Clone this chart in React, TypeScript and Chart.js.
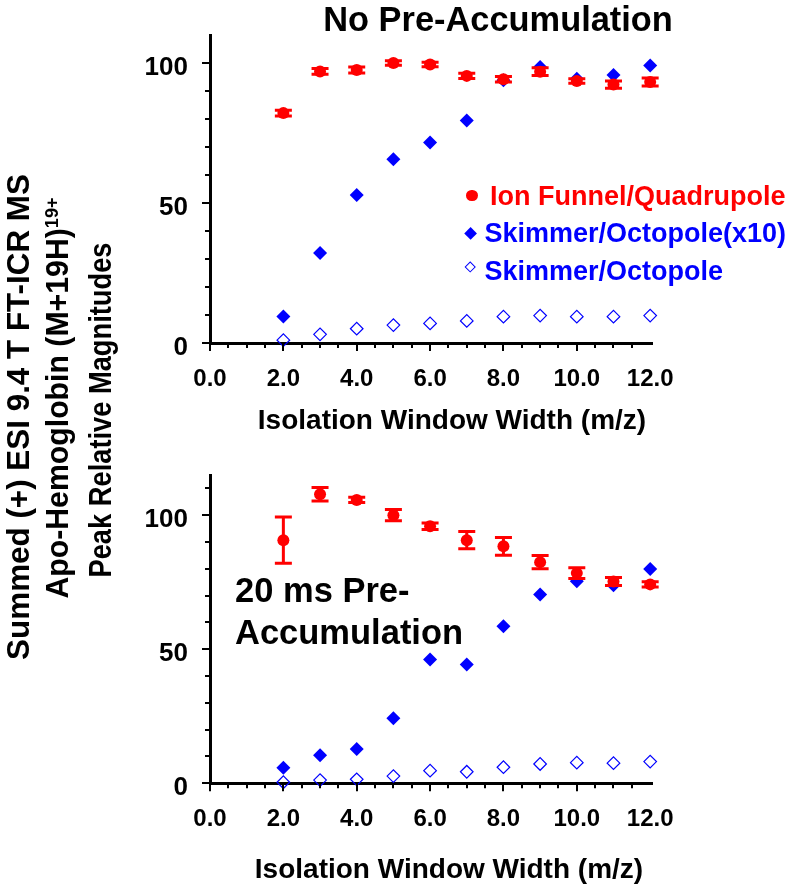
import React, { useEffect, useRef } from 'react';
import { Chart, registerables } from 'chart.js';

Chart.register(...registerables);

// ---------- data ----------
const widths = [2, 3, 4, 5, 6, 7, 8, 9, 10, 11, 12];

const topFunnel = [82.1, 97.0, 97.5, 100.0, 99.5, 95.4, 94.2, 96.9, 93.6, 92.3, 93.2];
const topFunnelErr = [1.0, 1.0, 1.1, 0.8, 0.8, 0.9, 1.0, 1.4, 0.8, 1.3, 1.4];
const topSkimmerX10 = [9.5, 32.1, 52.9, 65.6, 71.6, 79.5, 93.8, 98.6, 94.4, 95.7, 99.1];
const topSkimmer = [1.0, 3.1, 5.1, 6.4, 7.0, 7.9, 9.4, 9.8, 9.4, 9.4, 9.8];

const botFunnel = [90.7, 107.8, 105.7, 100.0, 95.9, 90.7, 88.4, 82.5, 78.4, 75.3, 74.2];
const botFunnelErr = [8.6, 2.5, 1.0, 2.1, 1.2, 3.2, 3.3, 2.5, 2.0, 1.5, 1.0];
const botSkimmerX10 = [5.8, 10.5, 12.8, 24.3, 46.2, 44.3, 58.6, 70.4, 75.4, 73.9, 79.9];
const botSkimmer = [0.4, 1.2, 1.5, 2.7, 4.7, 4.3, 6.0, 7.2, 7.7, 7.5, 8.1];

const xMajorValues = [0, 2, 4, 6, 8, 10, 12];
const xTickLabels = ['0.0', '2.0', '4.0', '6.0', '8.0', '10.0', '12.0'];
const yMajorValues = [0, 50, 100];
const yTickLabels = ['0', '50', '100'];

const seriesLabels = ['Ion Funnel/Quadrupole', 'Skimmer/Octopole(x10)', 'Skimmer/Octopole'];

// ---------- style ----------
const RED = '#ff0000';
const BLUE = '#0000ff';
const FONT = "'Liberation Sans', Arial, Helvetica, sans-serif";

const errorBarPlugin = {
  id: 'errorBars',
  afterDatasetsDraw(chart: any) {
    const { ctx } = chart;
    const xs = chart.scales.x;
    const ys = chart.scales.y;
    chart.data.datasets.forEach((ds: any) => {
      if (!ds.errors) return;
      ctx.save();
      ctx.strokeStyle = ds.borderColor;
      ctx.lineWidth = 3;
      ds.data.forEach((p: any, j: number) => {
        const e = ds.errors[j];
        const px = xs.getPixelForValue(p.x);
        const t = ys.getPixelForValue(p.y + e);
        const b = ys.getPixelForValue(p.y - e);
        ctx.beginPath();
        ctx.moveTo(px, t);
        ctx.lineTo(px, b);
        ctx.moveTo(px - 8.5, t);
        ctx.lineTo(px + 8.5, t);
        ctx.moveTo(px - 8.5, b);
        ctx.lineTo(px + 8.5, b);
        ctx.stroke();
      });
      ctx.restore();
    });
  },
};

const tickMarksPlugin = {
  id: 'tickMarks',
  afterDraw(chart: any) {
    const { ctx, chartArea } = chart;
    const xs = chart.scales.x;
    const ys = chart.scales.y;
    ctx.save();
    ctx.strokeStyle = '#000';
    ctx.lineWidth = 2;
    ctx.beginPath();
    xs.ticks.forEach((t: any) => {
      if (t.value >= 12 - 1e-6) return;
      const major = xMajorValues.includes(t.value);
      const px = Math.round(xs.getPixelForValue(t.value));
      ctx.moveTo(px, chartArea.bottom);
      ctx.lineTo(px, chartArea.bottom + (major ? 8 : 5));
    });
    ys.ticks.forEach((t: any) => {
      if (t.value >= ys.max - 1e-6) return;
      const major = yMajorValues.includes(t.value);
      const py = Math.round(ys.getPixelForValue(t.value));
      ctx.moveTo(chartArea.left, py);
      ctx.lineTo(chartArea.left - (major ? 8 : 5), py);
    });
    ctx.stroke();
    ctx.restore();
  },
};

function keepSteps(step: number) {
  return (scale: any) => {
    scale.ticks = scale.ticks.filter((t: any) => {
      const r = t.value / step;
      return Math.abs(r - Math.round(r)) < 1e-6;
    });
  };
}

function makeConfig(funnel: number[], err: number[], x10: number[], sk: number[], yMax: number, areaTop: number, areaBottom: number, canvasH: number, labelShift: number) {
  return {
    type: 'scatter',
    data: {
      datasets: [
        {
          label: seriesLabels[0],
          data: widths.map((x, i) => ({ x, y: funnel[i] })),
          errors: err,
          pointStyle: 'circle',
          pointRadius: 6,
          backgroundColor: RED,
          borderColor: RED,
          borderWidth: 0,
          clip: false,
        },
        {
          label: seriesLabels[1],
          data: widths.map((x, i) => ({ x, y: x10[i] })),
          pointStyle: 'rectRot',
          pointRadius: 7,
          backgroundColor: BLUE,
          borderColor: BLUE,
          borderWidth: 0,
          clip: false,
        },
        {
          label: seriesLabels[2],
          data: widths.map((x, i) => ({ x, y: sk[i] })),
          pointStyle: 'rectRot',
          pointRadius: 6.3,
          backgroundColor: 'rgba(0,0,0,0)',
          borderColor: BLUE,
          borderWidth: 1.2,
          clip: false,
        },
      ],
    },
    options: {
      animation: false,
      responsive: false,
      maintainAspectRatio: false,
      layout: { padding: { left: 0, right: 148, top: areaTop, bottom: 0 } },
      plugins: { legend: { display: false }, tooltip: { enabled: false }, title: { display: false } },
      scales: {
        x: {
          type: 'linear',
          min: 0,
          max: 12.05,
          afterBuildTicks: keepSteps(0.5),
          afterFit: (s: any) => { s.height = canvasH - areaBottom; },
          ticks: {
            stepSize: 0.5,
            includeBounds: false,
            autoSkip: false,
            maxRotation: 0,
            minRotation: 0,
            padding: 13.5,
            color: '#000',
            font: { family: FONT, size: 24, weight: 'bold' },
            callback: (v: number) => {
              const i = xMajorValues.findIndex((m) => Math.abs(m - v) < 1e-6);
              return i >= 0 ? xTickLabels[i] : '';
            },
          },
          grid: { display: false, drawTicks: true, tickLength: 8 },
          border: { display: true, color: '#000', width: 3 },
        },
        y: {
          type: 'linear',
          min: 0,
          max: yMax,
          afterBuildTicks: keepSteps(10),
          afterFit: (s: any) => { s.width = 210; },
          ticks: {
            stepSize: 10,
            includeBounds: false,
            autoSkip: false,
            padding: 14,
            color: '#000',
            font: { family: FONT, size: 26, weight: 'bold', lineHeight: `${labelShift * 2}px` },
            callback: (v: number) => {
              const i = yMajorValues.indexOf(v);
              return i >= 0 ? ['', yTickLabels[i]] : '';
            },
          },
          grid: { display: false, drawTicks: true, tickLength: 8 },
          border: { display: true, color: '#000', width: 3 },
        },
      },
    },
    plugins: [errorBarPlugin, tickMarksPlugin],
  };
}

function ChartCanvas(props: { top: number; height: number; config: any }) {
  const ref = useRef<HTMLCanvasElement | null>(null);
  useEffect(() => {
    if (!ref.current) return;
    const chart = new Chart(ref.current, props.config);
    return () => chart.destroy();
  }, []);
  return (
    <canvas
      ref={ref}
      width={800}
      height={props.height}
      style={{ position: 'absolute', left: 0, top: props.top, width: 800, height: props.height }}
    />
  );
}

const txt = (size: number, extra: any = {}) => ({
  position: 'absolute' as const,
  fontFamily: FONT,
  fontWeight: 'bold' as const,
  fontSize: size,
  lineHeight: `${size}px`,
  whiteSpace: 'nowrap' as const,
  color: '#000',
  ...extra,
});

const rotated = (cx: number, cy: number, size: number, squeeze: number) =>
  txt(size, { left: cx, top: cy, transform: `translate(-50%, -50%) rotate(-90deg) scaleX(${squeeze})` });

export default function App() {
  const topConfig = makeConfig(topFunnel, topFunnelErr, topSkimmerX10, topSkimmer, 110, 35, 343, 445, 4.5);
  const botConfig = makeConfig(botFunnel, botFunnelErr, botSkimmerX10, botSkimmer, 115, 30, 338.3, 444, 4.5);

  return (
    <div style={{ position: 'absolute', left: 0, top: 0, width: 800, height: 889, background: '#fff', overflow: 'hidden' }}>
      <ChartCanvas top={0} height={445} config={topConfig} />
      <ChartCanvas top={445} height={444} config={botConfig} />

      {/* titles */}
      <div style={txt(34.4, { left: 300, width: 396, textAlign: 'center', top: 2 })}>No Pre-Accumulation</div>
      <div style={txt(28, { left: 252, width: 400, textAlign: 'center', top: 406 })}>Isolation Window Width (m/z)</div>
      <div style={txt(28, { left: 249, width: 400, textAlign: 'center', top: 854.5 })}>Isolation Window Width (m/z)</div>

      {/* annotation */}
      <div style={txt(34.5, { left: 235, top: 569, lineHeight: '42px' })}>
        20 ms Pre-<br />Accumulation
      </div>

      {/* y-axis title */}
      <div style={rotated(19, 416.5, 31.4, 1)}>Summed (+) ESI 9.4 T FT-ICR MS</div>
      <div style={rotated(58, 397.5, 31.5, 0.96)}>
        Apo-Hemoglobin (M+19H)
        <span style={{ fontSize: '0.6em', position: 'relative', top: '-0.55em', lineHeight: 0 }}>19+</span>
      </div>
      <div style={rotated(100, 410, 31, 0.88)}>Peak Relative Magnitudes</div>

      {/* legend */}
      <div style={{ position: 'absolute', left: 472 - 5.6, top: 195.7 - 5.6, width: 11.2, height: 11.2, borderRadius: '50%', background: RED }} />
      <div style={txt(27, { left: 490, top: 196.5 - 13.2, color: RED })}>{seriesLabels[0]}</div>
      <div style={{ position: 'absolute', left: 470.4 - 4.6, top: 233.7 - 4.6, width: 9.2, height: 9.2, background: BLUE, transform: 'rotate(45deg)' }} />
      <div style={txt(27, { left: 484.4, top: 233 - 13.2, color: BLUE })}>{seriesLabels[1]}</div>
      <div style={{ position: 'absolute', left: 470.6 - 4.2, top: 267.5 - 4.2, width: 8.4, height: 8.4, boxSizing: 'border-box', border: `1px solid ${BLUE}`, transform: 'rotate(45deg)' }} />
      <div style={txt(27, { left: 484.4, top: 271 - 13.2, color: BLUE })}>{seriesLabels[2]}</div>
    </div>
  );
}
